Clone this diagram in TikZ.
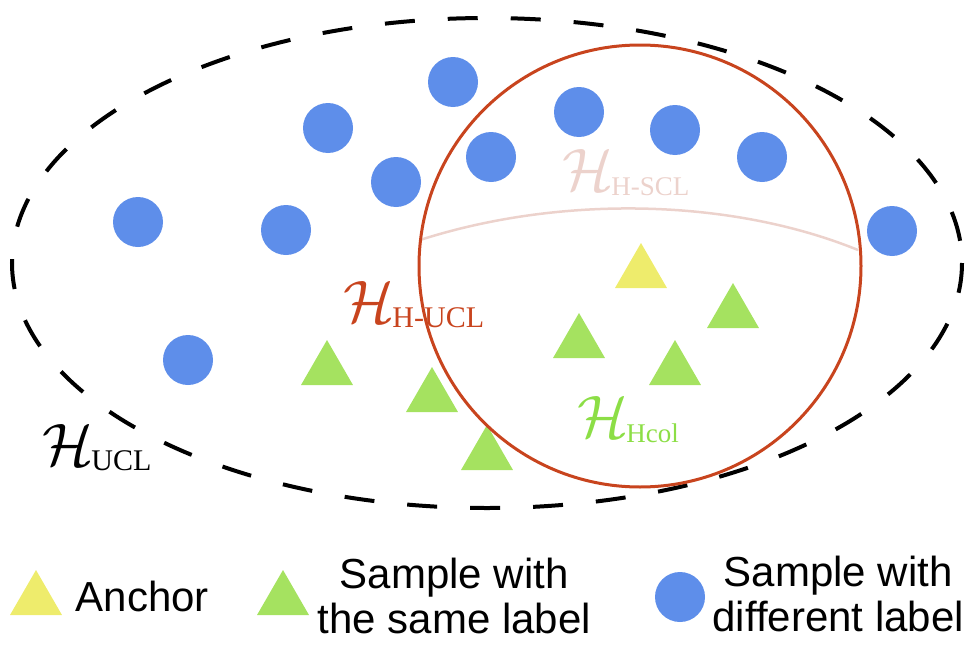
\documentclass[tikz,border=0pt]{standalone}
\usepackage{fix-cm}
\usepackage{fontspec}
\newfontfamily\legendfont{Liberation Sans}
\newfontfamily\subfont{Liberation Serif}
\usetikzlibrary{positioning, shapes.geometric}
\definecolor{diffblue}{RGB}{94,142,234}
\definecolor{samegreen}{RGB}{165,226,96}
\definecolor{anchoryellow}{RGB}{238,236,108}
\definecolor{huclred}{RGB}{200,68,30}
\definecolor{hsclpink}{RGB}{236,210,204}
\definecolor{hcolgreen}{RGB}{140,222,70}
\newcommand{\hsym}[2][30]{{\fontsize{60}{62}\selectfont$\mathcal{H}$}\kern-2pt\raisebox{-5pt}{\subfont\fontsize{#1}{#1}\selectfont #2}}
\tikzset{
  diffpt/.style={
    circle,
    fill=diffblue,
    minimum size=50pt,
    inner sep=0pt},
  samept/.style={
    regular polygon,
    regular polygon sides=3,
    fill=samegreen,
    minimum size=60pt,
    inner sep=0pt},
  anchorpt/.style={samept, fill=anchoryellow},
  ucl/.style={draw=black, line width=4pt, dash pattern=on 30pt off 33pt},
  hucl/.style={circle, draw=huclred, line width=3pt, minimum size=442pt, inner sep=0pt},
  hscl/.style={draw=hsclpink, line width=2.5pt},
  hname/.style={inner sep=0pt, anchor=base west},
  legend/.style={
    font=\legendfont\fontsize{42}{45}\selectfont,
    align=center,
    inner sep=0pt},
}
\begin{document}
\begin{tikzpicture}[x=1pt, y=-1pt]
	\useasboundingbox (0,0) rectangle (978,645);
	\draw [ucl] (487,263) ellipse [x radius=475, y radius=245];

	% samples with a different label
	\node [diffpt] (d1)	at (453,82)	{};
	\node [diffpt] (d2)	at (328,128)	{};
	\node [diffpt] (d3)	at (579,112)	{};
	\node [diffpt] (d4)	at (675,130)	{};
	\node [diffpt] (d5)	at (762,157)	{};
	\node [diffpt] (d6)	at (491,157)	{};
	\node [diffpt] (d7)	at (396,182)	{};
	\node [diffpt] (d8)	at (138,222)	{};
	\node [diffpt] (d9)	at (286,230)	{};
	\node [diffpt] (d10)	at (892,231)	{};
	\node [diffpt] (d11)	at (188,360)	{};

	% samples with the same label
	\node [samept] (s1)	at (327,370)	{};
	\node [samept] (s2)	at (432,397)	{};
	\node [samept] (s3)	at (487,455)	{};
	\node [samept] (s4)	at (579,343)	{};
	\node [samept] (s5)	at (675,370)	{};
	\node [samept] (s6)	at (733,313)	{};
	\node [anchorpt] (a1)	at (641,273)	{};

	\coordinate (hsclw) at (420,240);
	\coordinate (hscle) at (858,250);
	\draw [hscl] (hsclw) .. controls (560,195) and (730,198) .. (hscle);

	\node [hname] (hucl)	at (42,465)	{\hsym{UCL}};
	\node [hname, text=huclred] (hhucl)	at (343,322)	{\hsym{H-UCL}};
	\node [hname, text=hsclpink] (hhscl)	at (562,190)	{\hsym[27]{H-SCL}};
	\node [hname, text=hcolgreen] (hhcol)	at (577,437)	{\hsym[27]{Hcol}};

	\node [hucl] (hball) at (640,266) {};

	% legend
	\node [anchorpt] (lganchor)	at (36,600)	{};
	\node [legend, right=22pt of lganchor, yshift=4pt] (txanchor)	{Anchor};
	\node [samept] (lgsame)	at (283,600)	{};
	\node [legend, right=17pt of lgsame, yshift=4pt] (txsame)	{Sample with\\the same label};
	\node [diffpt] (lgdiff)	at (680,597)	{};
	\node [legend, right=7pt of lgdiff, yshift=3pt] (txdiff)	{Sample with\\different label};
\end{tikzpicture}
\end{document}
